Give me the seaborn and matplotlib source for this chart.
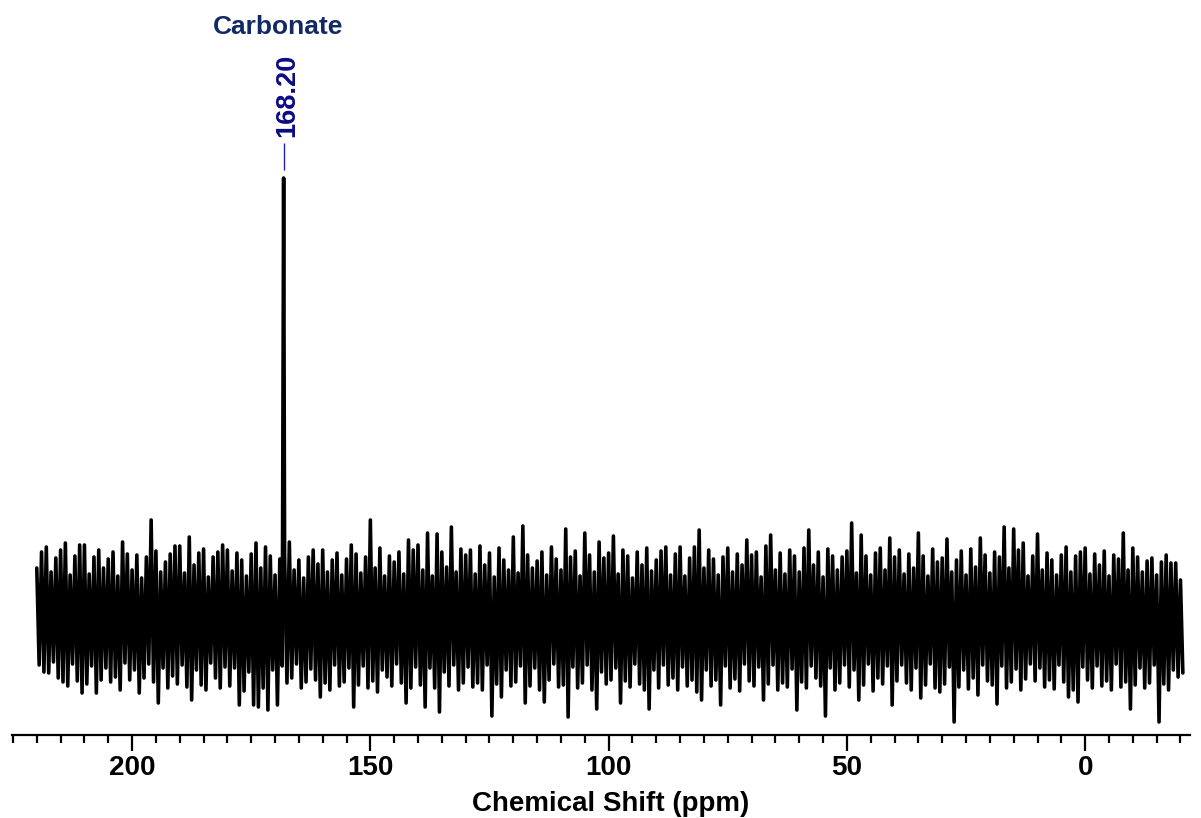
import numpy as np
import pandas as pd
import matplotlib
matplotlib.use('Agg')
import matplotlib.pyplot as plt
from matplotlib.ticker import MultipleLocator
import seaborn as sns

# ppm grid of the noise: one upper and one lower excursion per ppm, 220 -> -20
PPM_START = 220
PPM_END = -20

# upper excursions of the noise, one per ppm (220, 219, ..., -20)
noise_top = [
    52, 68, 73, 48, 62, 70, 77, 45, 64, 75,
    75, 46, 63, 70, 52, 61, 68, 44, 78, 66,
    50, 65, 42, 63, 100, 69, 48, 58, 66, 74,
    74, 47, 83, 55, 67, 71, 43, 63, 68, 75,
    70, 49, 67, 60, 44, 66, 77, 52, 73, 64,
    45, 61, 66, 78, 50, 60, 42, 63, 70, 56,
    70, 48, 60, 67, 45, 61, 75, 66, 47, 63,
    100, 52, 72, 44, 64, 58, 68, 46, 80, 70,
    75, 50, 87, 44, 86, 68, 53, 93, 48, 71,
    65, 70, 46, 74, 55, 67, 43, 72, 60, 50,
    83, 47, 94, 65, 52, 59, 68, 45, 73, 61,
    50, 91, 63, 69, 44, 87, 65, 48, 78, 62,
    67, 84, 46, 70, 64, 42, 68, 55, 72, 49,
    60, 69, 73, 45, 66, 73, 44, 62, 73, 90,
    52, 70, 61, 45, 63, 72, 48, 66, 55, 80,
    65, 68, 43, 74, 85, 50, 67, 46, 70, 64,
    48, 72, 90, 55, 68, 43, 71, 64, 50, 63,
    69, 97, 47, 85, 64, 45, 67, 72, 50, 82,
    63, 70, 46, 66, 52, 87, 64, 44, 71, 58,
    62, 81, 48, 60, 69, 45, 71, 53, 82, 65,
    47, 68, 63, 93, 52, 91, 70, 77, 44, 64,
    86, 50, 67, 60, 45, 65, 73, 48, 64, 68,
    72, 46, 66, 55, 69, 44, 65, 61, 87, 50,
    72, 63, 48, 59, 62, 45, 58, 65, 57, 57,
    40,
]

# lower excursions, half a ppm after each upper one
noise_bottom = [
    -45, -52, -53, -42, -58, -62, -66, -44, -61, -73,
    -64, -46, -73, -60, -48, -62, -57, -70, -43, -60,
    -50, -73, -58, -44, -62, -83, -48, -68, -56, -64,
    -45, -67, -80, -50, -65, -70, -43, -58, -68, -47,
    -66, -48, -85, -71, -52, -85, -87, -68, -90, -50,
    -85, -46, -63, -58, -44, -68, -62, -49, -60, -77,
    -63, -70, -45, -66, -62, -48, -87, -65, -46, -68,
    -61, -72, -50, -57, -66, -44, -63, -83, -68, -47,
    -65, -87, -48, -68, -92, -52, -66, -45, -70, -63,
    -47, -67, -63, -70, -45, -96, -64, -77, -50, -66,
    -62, -46, -83, -66, -48, -70, -82, -60, -44, -67,
    -65, -97, -47, -68, -63, -45, -70, -89, -52, -64,
    -60, -48, -83, -61, -67, -44, -64, -70, -89, -50,
    -68, -45, -65, -58, -70, -47, -66, -60, -72, -80,
    -50, -66, -60, -85, -46, -68, -59, -71, -44, -61,
    -66, -47, -80, -64, -45, -70, -63, -67, -49, -90,
    -62, -68, -46, -58, -66, -96, -48, -70, -63, -45,
    -67, -50, -80, -65, -44, -71, -58, -64, -46, -85,
    -61, -45, -63, -70, -48, -78, -65, -44, -68, -72,
    -64, -47, -102, -67, -50, -69, -58, -75, -45, -61,
    -65, -84, -46, -68, -62, -49, -70, -59, -44, -61,
    -48, -67, -60, -69, -45, -62, -77, -70, -82, -47,
    -60, -68, -46, -66, -61, -70, -44, -67, -62, -89,
    -65, -48, -68, -63, -45, -102, -64, -70, -50, -57,
    -53,
]

# the one real signal
peak_ppm = 168.20
peak_height = 442
peak_name = 'Carbonate'

ppm_top = np.arange(PPM_START, PPM_END - 1, -1.0)
ppm_bottom = ppm_top - 0.5

df = pd.DataFrame({
    'ppm': np.concatenate([ppm_top, ppm_bottom, [peak_ppm]]),
    'intensity': np.concatenate([noise_top, noise_bottom, [peak_height]]),
})
df = df.sort_values('ppm', ascending=False).reset_index(drop=True)

sns.set_style('white')
plt.rcParams['font.family'] = ['Liberation Sans', 'DejaVu Sans']
plt.rcParams['font.weight'] = 'bold'
plt.rcParams['text.color'] = 'black'
plt.rcParams['axes.labelcolor'] = 'black'
plt.rcParams['xtick.color'] = 'black'

fig = plt.figure(figsize=(12.01, 8.18), dpi=100)
ax = fig.add_axes([12 / 1201, 83 / 818, 1178 / 1201, 585 / 818])

sns.lineplot(data=df, x='ppm', y='intensity', sort=False, estimator=None,
             color='black', lw=2.6, ax=ax)

ax.set_xlim(225.2, -22.0)
ax.set_ylim(-115, 470)

# axis: only the bottom spine, ticks pointing down
sns.despine(ax=ax, left=True)
ax.spines['bottom'].set_linewidth(1.6)
ax.spines['bottom'].set_color('black')
ax.set_yticks([])
ax.set_ylabel('')
ax.xaxis.set_major_locator(MultipleLocator(50))
ax.xaxis.set_minor_locator(MultipleLocator(5))
ax.tick_params(axis='x', which='major', direction='out', length=11.5, width=1.6,
               color='black', labelcolor='black', labelsize=20, pad=3, bottom=True)
ax.tick_params(axis='x', which='minor', direction='out', length=6, width=1.6,
               color='black', bottom=True)
for lbl in ax.get_xticklabels():
    lbl.set_fontweight('bold')
ax.set_xlabel('Chemical Shift (ppm)', fontsize=20, fontweight='bold',
              color='black', labelpad=7)
ax.xaxis.label.set_x(0.508)

# peak label with a short vertical leader line
ax.vlines(peak_ppm, peak_height + 8, peak_height + 35, colors='#1f1fa6', lw=1.0,
          clip_on=False)
ax.text(peak_ppm - 0.7, peak_height + 41, f'{peak_ppm:.2f}', rotation=90,
        ha='center', va='bottom', fontsize=19.5, fontweight='bold',
        color='#0b0b84', clip_on=False)
ax.text(peak_ppm + 1.2, 593, peak_name, ha='center', va='center',
        fontsize=19, fontweight='bold', color='#112a66', clip_on=False)

fig.savefig('out.png', dpi=100)
